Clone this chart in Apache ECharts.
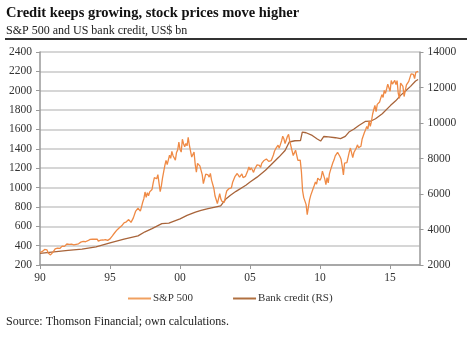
<!DOCTYPE html>
<html><head><meta charset="utf-8">
<script src="https://cdn.jsdelivr.net/npm/echarts@6/dist/echarts.min.js"></script>
<style>html,body{margin:0;padding:0;background:#fff}#c{width:471px;height:340px}</style>
</head><body><div id="c"></div>
<script>
// S&P 500 monthly, starting Jan 1990
const spxStartYear = 1990;
const spxMonthly = [
329,331,340,331,361,358,356,323,306,304,322,330,
344,367,375,375,390,371,388,395,388,392,375,417,
409,413,404,415,415,408,424,414,418,419,431,436,
439,443,452,440,450,451,448,464,459,468,462,466,
482,467,446,451,457,444,458,475,463,472,454,459,
470,487,501,515,533,545,562,562,584,582,605,616,
636,640,646,654,669,671,640,652,687,705,757,741,
786,791,757,801,848,885,954,899,947,915,955,970,
980,1049,1102,1112,1091,1134,1121,957,1017,1099,1164,1229,
1280,1238,1286,1335,1302,1373,1329,1320,1283,1363,1389,1469,
1394,1366,1499,1452,1421,1455,1431,1518,1437,1429,1315,1320,
1366,1240,1160,1249,1256,1224,1211,1134,1041,1060,1139,1148,
1130,1107,1147,1076,1067,990,912,916,835,886,936,880,
856,841,848,917,964,975,990,1008,996,1051,1058,1112,
1131,1145,1126,1107,1121,1141,1102,1104,1115,1130,1174,1212,
1181,1204,1181,1157,1192,1191,1234,1220,1229,1207,1249,1248,
1280,1281,1295,1311,1270,1270,1277,1304,1336,1378,1401,1418,
1438,1407,1421,1482,1531,1503,1455,1474,1527,1549,1481,1468,
1379,1331,1323,1386,1400,1280,1267,1283,1165,969,896,903,
826,720,798,873,919,919,987,1021,1057,1036,1096,1115,
1074,1104,1169,1187,1089,1031,1102,1049,1141,1183,1181,1258,
1286,1327,1326,1364,1345,1321,1292,1219,1131,1253,1247,1258,
1312,1366,1408,1398,1310,1362,1379,1407,1441,1412,1416,1426,
1498,1515,1569,1598,1631,1606,1686,1633,1682,1757,1806,1848,
1783,1859,1872,1884,1924,1960,1931,2003,1972,2018,2068,2059,
1995,2105,2068,2086,2107,2063,2104,1972,1920,2079,2080,2044,
1940,1932,2060,2065,2097,2099,2174,2171,2168,2126,2190,2200,
2200
];
// US bank credit, US$ bn (right scale)
const creditDates = [1990.0,1991.0,1992.0,1993.0,1994.0,1995.0,1996.0,1997.0,1997.5,1998.0,1998.7,1999.2,2000.0,2000.5,2001.1,2001.5,2002.0,2002.5,2002.9,2003.25,2003.6,2004.0,2004.7,2005.0,2005.5,2006.1,2006.5,2007.06,2007.5,2007.8,2008.2,2008.6,2008.73,2009.0,2009.44,2009.8,2010.04,2010.16,2010.27,2010.6,2011.1,2011.46,2011.8,2012.06,2012.4,2012.77,2013.25,2013.6,2013.96,2014.44,2015.04,2015.4,2015.75,2016.1,2016.46,2016.82,2017.0];
const creditValues = [2650,2740,2820,2900,3020,3250,3460,3640,3870,4050,4330,4360,4600,4800,4980,5080,5180,5265,5330,5700,5930,6150,6490,6680,6950,7335,7650,8080,8450,8930,9000,9010,9490,9450,9300,9100,8985,8960,9240,9220,9170,9120,9250,9490,9650,9860,10095,10100,10240,10520,10995,11250,11556,11800,12064,12365,12450];
const xTickLabels = {1990:'90',1995:'95',2000:'00',2005:'05',2010:'10',2015:'15'};
const titleText = 'Credit keeps growing, stock prices move higher';
const subtitleText = 'S&P 500 and US bank credit, US$ bn';
const sourceText = 'Source: Thomson Financial; own calculations.';
const seriesNames = ['S&P 500', 'Bank credit (RS)'];

const spxData = spxMonthly.map((v,i)=>[spxStartYear + i/12, v]);
const creditData = creditDates.map((d,i)=>[d, creditValues[i]]);

const serif = '"Liberation Serif","DejaVu Serif",serif';
const txt = '#333';
const chart = echarts.init(document.getElementById('c'), null, {renderer:'canvas'});
chart.setOption({
  animation:false,
  textStyle:{fontFamily:serif},
  grid:{left:40, right:51.5, top:52, bottom:75},
  legend:{
    left:123, top:288, itemWidth:23, itemHeight:2, itemGap:40, icon:'rect',
    textStyle:{fontFamily:serif, fontSize:11, color:txt, padding:[0,0,0,-3]},
    data:seriesNames
  },
  xAxis:{
    type:'value', min:1990, max:2017.1, interval:5,
    axisLine:{lineStyle:{color:'#999', width:1.5}},
    axisTick:{length:4, lineStyle:{color:'#999'}},
    axisLabel:{fontFamily:serif, fontSize:11.5, color:txt, margin:7, formatter:v=>xTickLabels[v]||'', showMaxLabel:false},
    splitLine:{show:false}
  },
  yAxis:[{
    type:'value', min:200, max:2400, interval:200, position:'left',
    axisLine:{show:true, lineStyle:{color:'#999', width:1.5}},
    axisTick:{show:true, length:4, lineStyle:{color:'#999'}},
    axisLabel:{fontFamily:serif, fontSize:11.5, color:txt, margin:8, formatter:v=>String(v)},
    splitLine:{lineStyle:{color:'#c8c8c8', width:1.5}}
  },{
    type:'value', min:2000, max:14000, interval:2000, position:'right',
    axisLine:{show:true, lineStyle:{color:'#999', width:1.5}},
    axisTick:{show:true, length:4, lineStyle:{color:'#999'}},
    axisLabel:{fontFamily:serif, fontSize:11.5, color:txt, margin:8, formatter:v=>String(v)},
    splitLine:{show:false}
  }],
  series:[{
    name:seriesNames[0], type:'line', data:spxData, yAxisIndex:0, showSymbol:false, symbol:'none',
    lineStyle:{color:'#ef8a45', width:1.3}, itemStyle:{color:'#f0a060'}, z:3
  },{
    name:seriesNames[1], type:'line', data:creditData, yAxisIndex:1, showSymbol:false, symbol:'none',
    lineStyle:{color:'#a8643a', width:1.3}, itemStyle:{color:'#b07040'}, z:2
  }],
  graphic:[
    {type:'text', left:6, top:6, style:{text:titleText, font:'bold 14.5px '+serif, fill:'#111'}},
    {type:'text', left:6, top:25, style:{text:subtitleText, font:'12px '+serif, fill:'#222'}},
    {type:'line', shape:{x1:5, y1:39, x2:467, y2:39}, style:{stroke:'#333', lineWidth:2}},
    {type:'text', left:6, top:316, style:{text:sourceText, font:'12px '+serif, fill:'#222'}}
  ]
});
</script></body></html>
